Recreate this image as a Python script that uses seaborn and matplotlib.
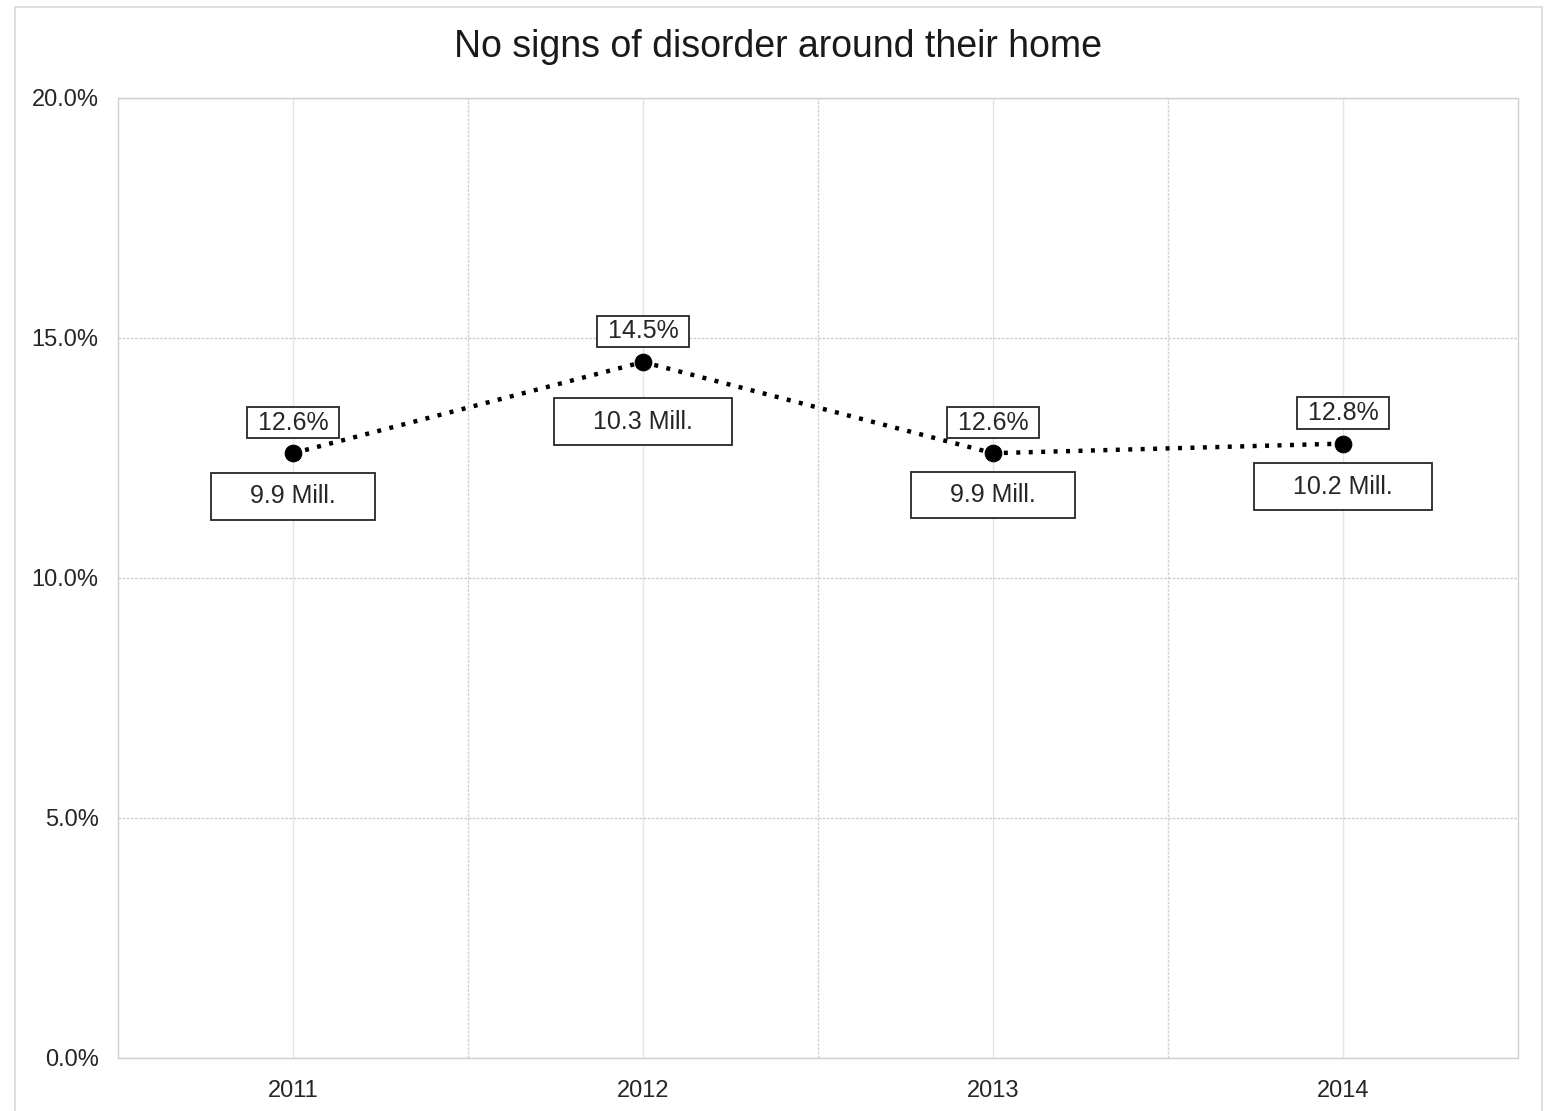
import matplotlib
matplotlib.use("Agg")
import matplotlib.pyplot as plt
import seaborn as sns
import pandas as pd
from matplotlib.patches import Rectangle
from matplotlib.ticker import FuncFormatter, MultipleLocator, FixedLocator

years = ["2011", "2012", "2013", "2014"]
share = [12.6, 14.5, 12.6, 12.8]
pct_labels = ["12.6%", "14.5%", "12.6%", "12.8%"]
mill_labels = ["9.9 Mill.", "10.3 Mill.", "9.9 Mill.", "10.2 Mill."]
title = "No signs of disorder around their home"

# label offsets in points (styling, not data)
pct_offset = [22, 22, 22, 22]
mill_offset = [-31, -43, -30, -31]

sns.set_theme(style="white")
plt.rcParams['font.family'] = ['Liberation Sans', 'DejaVu Sans']

df = pd.DataFrame({"year": years, "share": share})
df["x"] = range(len(years))

fig = plt.figure(figsize=(15.5, 11.11), dpi=100)
ax = fig.add_axes([118/1550, 53/1111, 1400/1550, 960/1111])

# figure border
fig.patches.append(Rectangle((15/1550, -0.01), 1527/1550, 1.0 - 7/1111 + 0.01,
                             transform=fig.transFigure, fill=False,
                             edgecolor="#d9d9d9", linewidth=1.2))

sns.lineplot(data=df, x="x", y="share", ax=ax, color="black",
             linestyle=(0, (0.9, 1.9)), linewidth=3.2, marker="o",
             markersize=12, markeredgecolor="black", markerfacecolor="black")

ax.set_xlim(-0.5, 3.5)
ax.set_ylim(0, 20)
ax.yaxis.set_major_locator(MultipleLocator(5))
ax.yaxis.set_major_formatter(FuncFormatter(lambda v, p: f"{v:.1f}%"))
ax.set_xticks(df["x"])
ax.set_xticklabels(years)
ax.xaxis.set_minor_locator(FixedLocator([0.5, 1.5, 2.5]))
ax.set_xlabel("")
ax.set_ylabel("")

ax.grid(True, which="major", axis="y", color="#d0d0d0", linestyle=(0, (2, 1)), linewidth=1)
ax.grid(True, which="major", axis="x", color="#e4e4e4", linestyle="-", linewidth=1)
ax.grid(True, which="minor", axis="x", color="#d0d0d0", linestyle=(0, (2, 1)), linewidth=1)
ax.set_axisbelow(True)
for s in ax.spines.values():
    s.set_edgecolor("#cfcfcf")
    s.set_linestyle((0, (2, 1)))
    s.set_linewidth(1)

ax.tick_params(axis="both", which="both", length=0, labelsize=17, colors="#262626")
ax.tick_params(axis="y", pad=14)
ax.tick_params(axis="x", pad=16)

for i, (xv, yv) in enumerate(zip(df["x"], share)):
    ax.annotate(" " + pct_labels[i] + " ", (xv, yv), xytext=(0, pct_offset[i]), textcoords="offset points",
                ha="center", va="center", fontsize=18, color="#262626",
                bbox=dict(boxstyle="square,pad=0.15", facecolor="white", edgecolor="#262626", linewidth=1.3))
    ax.annotate("    " + mill_labels[i] + "    ", (xv, yv), xytext=(0, mill_offset[i]), textcoords="offset points",
                ha="center", va="center", fontsize=18, color="#262626",
                bbox=dict(boxstyle="square,pad=0.45", facecolor="white", edgecolor="#262626", linewidth=1.3))

fig.text(778/1550, 1 - 47/1111, title, ha="center", va="center", fontsize=27, color="#1a1a1a")

fig.savefig("out.png", dpi=100)
